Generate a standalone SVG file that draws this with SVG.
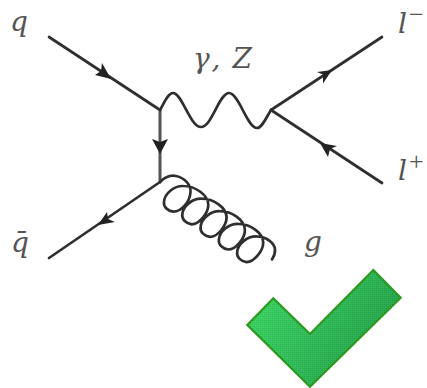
<svg xmlns="http://www.w3.org/2000/svg" width="427" height="388" viewBox="0 0 427 388">
<style>
.l{fill:none;stroke:#2f2f2f;stroke-width:2.700;stroke-linecap:round;stroke-linejoin:round}
.v{stroke:#555;stroke-width:3}
.a{fill:#222;stroke:none}
.t{font-family:"DejaVu Serif",serif;font-style:italic;font-size:28px;fill:#555}
.s{font-family:"Liberation Serif",serif;font-size:26px;fill:#555;font-style:normal}
</style>
<defs>
<linearGradient id="g" gradientUnits="userSpaceOnUse" x1="255" y1="290" x2="390" y2="370">
<stop offset="0" stop-color="#3bd564"/><stop offset="1" stop-color="#229e48"/>
</linearGradient>
<pattern id="st" width="2" height="2" patternUnits="userSpaceOnUse"><rect width="1" height="1" fill="#000" fill-opacity=".08"/><rect x="1" y="1" width="1" height="1" fill="#fff" fill-opacity=".06"/></pattern>
</defs>
<g id="connectors">
<path class="l" d="M49,37 L160,110"/>
<path class="l v" d="M160,110 L160,182"/>
<path class="l" d="M160,182 L49,258"/>
<path class="l" d="M271,110 L382,37"/>
<path class="l" d="M271,110 L382,183"/>
<path class="l" d="M160,110 C164,103 168,93 173,93 C182,93 190,127 201,127 C212,127 219,93 229,93 C239,93 247,128 257,128 C262,128 266,118 271,110"/>
<path class="l" d="M160,182 C165,177 171,175 176,176 C185,178 191,185 190.500,192 C190,202 181,212 173.300,211.700 c-6,-1 -10,-5 -9.300,-10 c0.500,-8 10,-16 19.300,-15.700 c12,0 25,9 25,19 c0,8 -9,19.300 -16.700,19.300 c-6,-1 -10,-5 -9.300,-10 c0.500,-8 10,-16 19.300,-15.700 c12,0 25,9 25,19 c0,8 -9,19.300 -16.700,19.300 c-6,-1 -10,-5 -9.300,-10 c0.500,-8 10,-16 19.300,-15.700 c12,0 25,9 25,19 c0,8 -9,19.300 -16.700,19.300 c-6,-1 -10,-5 -9.300,-10 c0.500,-8 10,-16 19.300,-15.700 c12,0 25,9 25,19 c0,8 -9,19.300 -16.700,19.300 c-6,-1 -10,-5 -9.300,-10 c0.500,-8 10,-16 19.300,-15.700 c10,0 18,7 18.500,13 c0.300,4 -1,7 -3,10"/>
<path class="a" d="M111,79 L95,75 L101,71 L102,63 Z"/>
<path class="a" d="M160,154 L152,139 L160,142 L168,139 Z"/>
<path class="a" d="M98,225 L115,222 L108,219 L107,212 Z"/>
<path class="a" d="M332,70 L317,72 L323,74.500 L323,83.500 Z"/>
<path class="a" d="M320,143 L337,146 L330,149 L328,157 Z"/>
</g>
<g id="labels">
<text class="t" x="10" y="31">q</text>
<text class="t" x="193" y="68" textLength="59">γ, Z</text>
<text class="t" x="398" y="33">l<tspan class="s" dy="-10" dx="2">−</tspan></text>
<text class="t" x="398" y="180">l<tspan class="s" dy="-10" dx="2">+</tspan></text>
<text class="t" x="11" y="252">q̄</text>
<text class="t" x="304" y="251">g</text>
</g>
<g id="check">
<path d="M373.300,270 L400.700,297.700 L310,386.700 L247.300,325 L273.300,298.300 L310,334 Z" fill="url(#g)" stroke="#2a9a1c" stroke-width="2.200" stroke-linejoin="miter"/>
<path d="M373.300,270 L400.700,297.700 L310,386.700 L247.300,325 L273.300,298.300 L310,334 Z" fill="url(#st)"/>
</g>
</svg>
